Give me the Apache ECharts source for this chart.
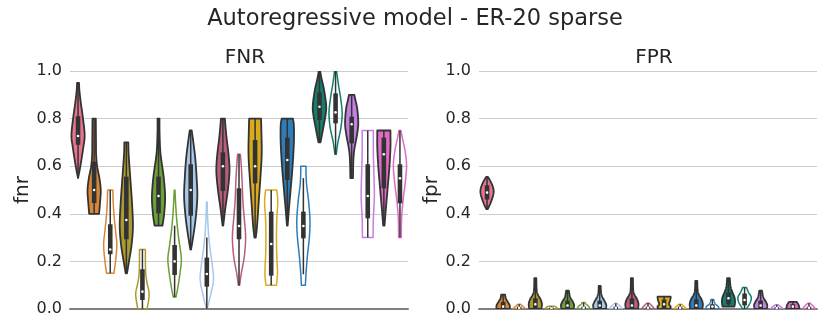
<!DOCTYPE html>
<html><head><meta charset="utf-8">
<script src="https://cdn.jsdelivr.net/npm/echarts@6/dist/echarts.min.js"></script>
<style>html,body{margin:0;padding:0;background:#fff}#c{width:830px;height:332px}</style>
</head><body><div id="c"></div>
<script>
// categories: 21 violins (first one alone, then filled/unfilled pairs)
const categories = ['A','B1','B2','C1','C2','D1','D2','E1','E2','F1','F2','G1','G2','H1','H2','I1','I2','J1','J2','K1','K2'];
const colors = ['#e8758f','#d8873a','#d8873a','#ab9a2f','#ab9a2f','#6b9f38','#6b9f38','#a6c8ea','#a6c8ea','#b95c7d','#b95c7d','#d9ab1a','#d9ab1a','#2e7db8','#2e7db8','#137d6e','#137d6e','#c47fe0','#c47fe0','#e06bc6','#e06bc6'];
const filled = [1,1,0,1,0,1,0,1,0,1,0,1,0,1,0,1,0,1,0,1,0];
const yTicks = [0, 0.2, 0.4, 0.6, 0.8, 1.0];

// FNR: density profiles [value, relative width], box stats
const fnrProfile = [
 [[0.55,0],[0.6,0.35],[0.68,0.8],[0.73,1],[0.8,0.75],[0.87,0.4],[0.92,0.2],[0.95,0.15]],
 [[0.40,0.75],[0.45,0.9],[0.5,1],[0.55,0.8],[0.6,0.45],[0.65,0.3],[0.7,0.28],[0.8,0.25]],
 [[0.15,0.55],[0.2,0.8],[0.27,1],[0.33,0.8],[0.4,0.55],[0.45,0.45],[0.5,0.4]],
 [[0.15,0.1],[0.2,0.4],[0.27,0.8],[0.35,1],[0.45,0.85],[0.55,0.6],[0.65,0.35],[0.7,0.3]],
 [[0,0.7],[0.04,0.95],[0.07,1],[0.11,0.7],[0.15,0.5],[0.2,0.45],[0.25,0.45]],
 [[0.35,0.6],[0.4,0.85],[0.47,1],[0.55,0.8],[0.62,0.45],[0.67,0.25],[0.75,0.15],[0.8,0.15]],
 [[0.05,0.2],[0.1,0.55],[0.18,0.95],[0.22,1],[0.28,0.7],[0.35,0.4],[0.42,0.2],[0.5,0.05]],
 [[0.25,0.05],[0.3,0.35],[0.38,0.75],[0.47,1],[0.55,0.9],[0.63,0.7],[0.7,0.4],[0.75,0.15]],
 [[0,0.05],[0.05,0.5],[0.12,1],[0.18,0.85],[0.25,0.5],[0.32,0.25],[0.4,0.1],[0.45,0.05]],
 [[0.35,0.05],[0.42,0.35],[0.5,0.75],[0.58,1],[0.65,0.85],[0.72,0.55],[0.78,0.35],[0.8,0.3]],
 [[0.1,0.1],[0.15,0.35],[0.22,0.8],[0.3,1],[0.38,0.8],[0.45,0.6],[0.55,0.45],[0.62,0.3],[0.65,0.2]],
 [[0.3,0.1],[0.35,0.3],[0.45,0.55],[0.55,0.8],[0.65,1],[0.75,0.95],[0.8,0.9]],
 [[0.1,0.8],[0.15,0.95],[0.22,0.85],[0.3,0.8],[0.38,0.85],[0.45,1],[0.5,0.85]],
 [[0.35,0.05],[0.42,0.25],[0.5,0.5],[0.6,0.8],[0.7,1],[0.77,1],[0.8,0.85]],
 [[0.1,0.3],[0.15,0.4],[0.22,0.6],[0.3,0.9],[0.37,1],[0.45,0.8],[0.52,0.5],[0.57,0.4],[0.6,0.4]],
 [[0.70,0.15],[0.75,0.5],[0.82,0.95],[0.86,1],[0.92,0.7],[0.97,0.3],[1.0,0.1]],
 [[0.65,0.1],[0.7,0.35],[0.76,0.8],[0.82,1],[0.88,0.8],[0.94,0.45],[1.0,0.15]],
 [[0.55,0.2],[0.62,0.25],[0.67,0.4],[0.73,0.8],[0.78,1],[0.84,0.85],[0.88,0.55],[0.9,0.4]],
 [[0.3,0.8],[0.38,0.85],[0.47,1],[0.55,0.95],[0.65,0.85],[0.75,0.85]],
 [[0.35,0.1],[0.42,0.3],[0.5,0.55],[0.6,0.85],[0.68,1],[0.73,1],[0.75,1]],
 [[0.3,0.2],[0.38,0.25],[0.45,0.45],[0.53,0.8],[0.6,1],[0.66,0.8],[0.72,0.35],[0.75,0.15]]
];
const fnrQ1 = [0.69,0.445,0.23,0.293,0.038,0.402,0.143,0.392,0.094,0.496,0.293,0.528,0.14,0.542,0.297,0.794,0.78,0.696,0.381,0.507,0.444];
const fnrQ3 = [0.81,0.619,0.356,0.556,0.167,0.556,0.269,0.608,0.216,0.658,0.507,0.71,0.409,0.72,0.409,0.91,0.906,0.808,0.608,0.72,0.608];
const fnrMed = [0.727,0.50,0.25,0.374,0.073,0.475,0.20,0.50,0.147,0.60,0.349,0.60,0.273,0.626,0.349,0.85,0.826,0.776,0.475,0.65,0.549];
const fnrWhiskLo = [0.55,0.40,0.15,0.15,0.0,0.35,0.05,0.25,0.0,0.35,0.10,0.30,0.10,0.35,0.146,0.70,0.65,0.55,0.30,0.35,0.30];
const fnrWhiskHi = [0.95,0.80,0.50,0.70,0.25,0.80,0.35,0.75,0.30,0.80,0.65,0.80,0.50,0.80,0.55,1.0,1.0,0.90,0.75,0.75,0.75];

// FPR
const fprProfile = [
 [[0.42,0.1],[0.45,0.6],[0.49,1],[0.52,0.8],[0.55,0.25],[0.555,0.1]],
 [[0,1],[0.015,1],[0.03,0.7],[0.045,0.4],[0.06,0.3]],
 [[0,1],[0.01,0.6],[0.02,0.2]],
 [[0,0.9],[0.02,1],[0.04,0.8],[0.06,0.4],[0.08,0.2],[0.13,0.15]],
 [[0,1],[0.006,0.8],[0.012,0.5]],
 [[0,0.9],[0.015,1],[0.03,0.8],[0.05,0.4],[0.077,0.2]],
 [[0,1],[0.01,0.8],[0.02,0.4],[0.027,0.2]],
 [[0,0.9],[0.015,1],[0.03,0.8],[0.05,0.4],[0.07,0.2],[0.097,0.15]],
 [[0,1],[0.01,0.7],[0.024,0.2]],
 [[0,0.9],[0.02,1],[0.04,0.8],[0.06,0.4],[0.08,0.2],[0.13,0.15]],
 [[0,1],[0.01,0.7],[0.024,0.2]],
 [[0,0.9],[0.01,1],[0.02,0.75],[0.035,0.9],[0.05,1],[0.052,0.9]],
 [[0,1],[0.01,0.6],[0.02,0.2]],
 [[0,0.9],[0.02,1],[0.04,0.8],[0.06,0.4],[0.08,0.2],[0.118,0.15]],
 [[0,1],[0.01,0.9],[0.02,0.5],[0.03,0.3],[0.04,0.2]],
 [[0.01,0.9],[0.03,1],[0.05,0.9],[0.07,0.6],[0.09,0.35],[0.11,0.25],[0.13,0.2]],
 [[0,0.2],[0.01,0.5],[0.03,0.9],[0.05,1],[0.07,0.6],[0.09,0.3]],
 [[0,0.9],[0.015,1],[0.03,0.8],[0.05,0.4],[0.077,0.2]],
 [[0,1],[0.01,0.6],[0.018,0.2]],
 [[0,1],[0.015,0.9],[0.025,0.7],[0.03,0.6]],
 [[0,1],[0.01,0.7],[0.024,0.2]]
];
const fprQ1 = [0.46,0,0,0,0,0,0,0,0,0,0,0,0,0,0,0.02,0.015,0,0,0,0];
const fprQ3 = [0.52,0.03,0.01,0.045,0.006,0.035,0.01,0.035,0.01,0.045,0.01,0.04,0.01,0.04,0.02,0.07,0.065,0.035,0.008,0.02,0.01];
const fprMed = [0.489,0.01,0.005,0.02,0.003,0.015,0.005,0.015,0.005,0.015,0.005,0.02,0.005,0.015,0.01,0.045,0.038,0.015,0.004,0.01,0.005];
const fprWhiskLo = [0.42,0,0,0,0,0,0,0,0,0,0,0,0,0,0,0.01,0,0,0,0,0];
const fprWhiskHi = [0.555,0.06,0.02,0.13,0.012,0.077,0.027,0.097,0.024,0.13,0.024,0.052,0.02,0.118,0.04,0.13,0.09,0.077,0.018,0.03,0.024];

const DARK = '#333333';
const FONT = 'DejaVu Sans';

function smoothProfile(p) {
  // Catmull-Rom sampling between knots (rendering only)
  const out = [];
  const n = p.length;
  for (let k = 0; k < n - 1; k++) {
    const p0 = p[Math.max(k - 1, 0)], p1 = p[k], p2 = p[k + 1], p3 = p[Math.min(k + 2, n - 1)];
    const steps = 8;
    for (let s = 0; s < steps; s++) {
      const t = s / steps, t2 = t * t, t3 = t2 * t;
      const f = (a, b, c, d) => 0.5 * ((2 * b) + (-a + c) * t + (2 * a - 5 * b + 4 * c - d) * t2 + (-a + 3 * b - 3 * c + d) * t3);
      out.push([f(p0[0], p1[0], p2[0], p3[0]), Math.max(0, f(p0[1], p1[1], p2[1], p3[1]))]);
    }
  }
  out.push(p[n - 1]);
  return out;
}

function violinSeries(gi, prof, q1, q3, med, wlo, whi) {
  return {
    type: 'custom', xAxisIndex: gi, yAxisIndex: gi, clip: true,
    data: categories.map((c, i) => [i, med[i]]),
    renderItem: function (params, api) {
      const i = api.value(0);
      const band = api.size([1, 0])[0];
      const half = band * 0.82 / 2;
      const cx = api.coord([i, 0])[0];
      const pts = smoothProfile(prof[i]);
      const right = pts.map(p => [cx + p[1] * half, api.coord([i, p[0]])[1]]);
      const left = pts.slice().reverse().map(p => [cx - p[1] * half, api.coord([i, p[0]])[1]]);
      const poly = right.concat(left);
      const isF = filled[i];
      const children = [];
      children.push({ type: 'polygon', shape: { points: poly },
        style: { fill: isF ? colors[i] : 'rgba(255,255,255,0)', stroke: isF ? DARK : colors[i], lineWidth: isF ? 1.8 : 1.5, lineJoin: 'round' } });
      const yWl = api.coord([i, wlo[i]])[1], yWh = api.coord([i, whi[i]])[1];
      children.push({ type: 'line', shape: { x1: cx, y1: yWl, x2: cx, y2: yWh }, style: { stroke: DARK, lineWidth: 1.5 } });
      const yq1 = api.coord([i, q1[i]])[1], yq3 = api.coord([i, q3[i]])[1];
      children.push({ type: 'rect', shape: { x: cx - 2.3, y: yq3, width: 4.6, height: Math.max(yq1 - yq3, 1) }, style: { fill: DARK } });
      const ym = api.coord([i, med[i]])[1];
      children.push({ type: 'circle', shape: { cx: cx, cy: ym, r: 1.3 }, style: { fill: '#ffffff' } });
      return { type: 'group', children: children };
    }
  };
}

const chart = echarts.init(document.getElementById('c'), null, { renderer: 'canvas' });
const grids = [{ left: 70, top: 71, width: 338, height: 238 }, { left: 479, top: 71, width: 338, height: 238 }];
function xAx(gi) {
  return { type: 'category', gridIndex: gi, data: categories, boundaryGap: true,
    axisLine: { show: true, lineStyle: { color: '#808080', width: 2 } }, axisTick: { show: false }, axisLabel: { show: false }, splitLine: { show: false } };
}
function yAx(gi, name) {
  return { type: 'value', gridIndex: gi, min: 0, max: 1, interval: 0.2, name: name, nameLocation: 'middle', nameGap: 37,
    nameTextStyle: { fontFamily: FONT, fontSize: 20, color: '#262626' },
    axisLine: { show: false }, axisTick: { show: false },
    axisLabel: { fontFamily: FONT, fontSize: 16, color: '#262626', margin: 8, formatter: v => yTicks.includes(+v.toFixed(1)) ? v.toFixed(1) : '' },
    splitLine: { show: true, lineStyle: { color: '#cccccc', width: 1 } } };
}
chart.setOption({
  animation: false,
  backgroundColor: '#ffffff',
  title: [
    { text: 'Autoregressive model - ER-20 sparse', left: 'center', top: 3, textStyle: { fontFamily: FONT, fontSize: 22.5, fontWeight: 'normal', color: '#262626' } },
    { text: 'FNR', left: 240, top: 43, textAlign: 'center', textStyle: { fontFamily: FONT, fontSize: 20, fontWeight: 'normal', color: '#262626' } },
    { text: 'FPR', left: 649, top: 43, textAlign: 'center', textStyle: { fontFamily: FONT, fontSize: 20, fontWeight: 'normal', color: '#262626' } }
  ],
  grid: grids,
  xAxis: [xAx(0), xAx(1)],
  yAxis: [yAx(0, 'fnr'), yAx(1, 'fpr')],
  series: [
    violinSeries(0, fnrProfile, fnrQ1, fnrQ3, fnrMed, fnrWhiskLo, fnrWhiskHi),
    violinSeries(1, fprProfile, fprQ1, fprQ3, fprMed, fprWhiskLo, fprWhiskHi)
  ]
});
</script></body></html>
